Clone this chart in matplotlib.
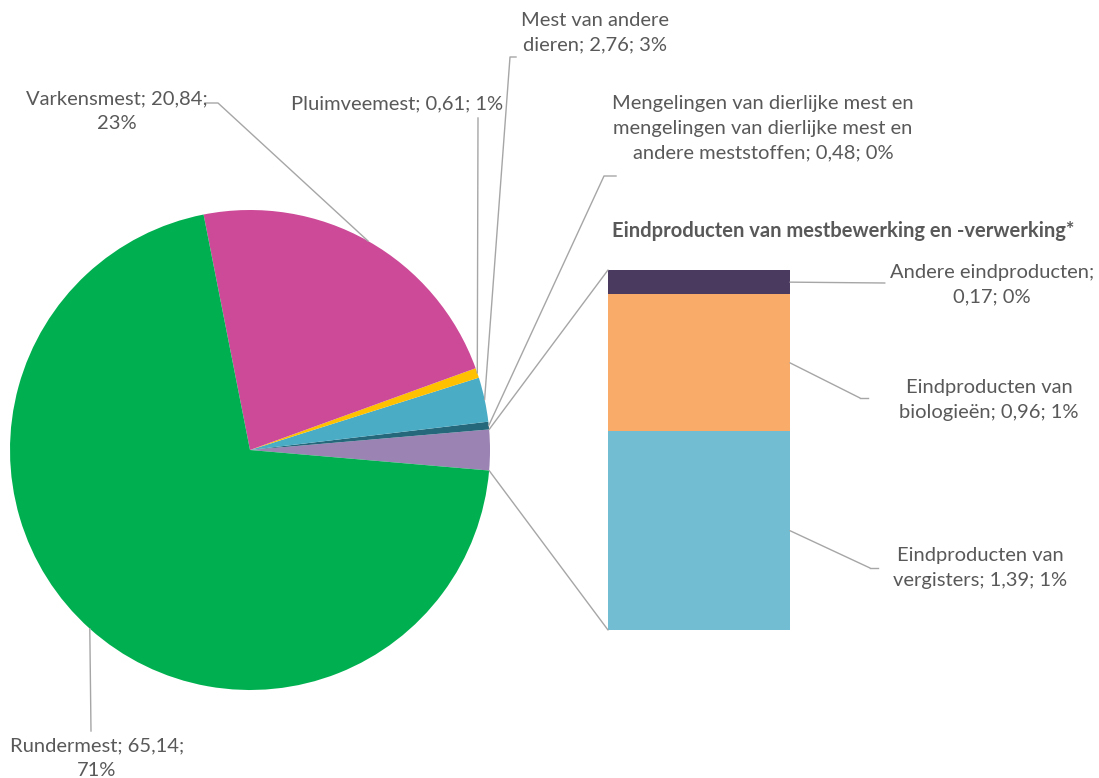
import matplotlib.pyplot as plt
from matplotlib.patches import ConnectionPatch
import numpy as np

plt.rcParams['font.family'] = ['Lato', 'DejaVu Sans']

# pie data (first slice is split into the bar)
pie_names = ['Eindproducten', 'Mengelingen van dierlijke mest en\nmengelingen van dierlijke mest en\nandere meststoffen',
             'Mest van andere\ndieren', 'Pluimveemest', 'Varkensmest', 'Rundermest']
pie_values = [2.52, 0.48, 2.76, 0.61, 20.84, 65.14]
pie_pcts = ['', '0%', '3%', '1%', '23%', '71%']
pie_colors = ['#9B83B4', '#25687C', '#4BACC6', '#FFC000', '#CC4A97', '#00B050']

# bar data, bottom to top
bar_names = ['Eindproducten van\nvergisters', 'Eindproducten van\nbiologieën', 'Andere eindproducten;\n']
bar_values = [1.39, 0.96, 0.17]
bar_pcts = ['1%', '1%', '0%']
bar_colors = ['#72BDD1', '#F9AC6A', '#4B3A60']

W, H = 1099, 778
TXT = '#595959'
LINE = '#A6A6A6'
FS = 14.5
LS = 1.55


def py(y):
    return H - y


def fmt(v):
    return f'{v:.2f}'.replace('.', ',')


fig = plt.figure(figsize=(W / 100, H / 100), dpi=100)
ax = fig.add_axes([0, 0, 1, 1])

cx, cy, r = 250, py(450), 240
start = -pie_values[0] / sum(pie_values) * 360 / 2
wedges, _ = ax.pie(pie_values, colors=pie_colors, startangle=start, counterclock=True,
                   center=(cx, cy), radius=r, wedgeprops=dict(linewidth=0))
ax.set_xlim(0, W)
ax.set_ylim(0, H)
ax.set_aspect('equal')
ax.axis('off')


def edge(w):
    a = np.deg2rad((w.theta1 + w.theta2) / 2)
    return cx + r * np.cos(a), cy + r * np.sin(a)


# pie labels: text center, leader path start
pie_label_pos = [None, (763, 128), (595, 33), (397, 104), (117, 111), (97, 758)]
pie_leader = [None, [(616, 176), (604, 176)], [(516, 57), (510, 57)], [(478, 118)],
              [(205, 103), (218, 103)], [(91, 731)]]

for i in range(1, len(pie_values)):
    name = pie_names[i]
    if i in (4, 5):
        txt = f'{name}; {fmt(pie_values[i])};\n{pie_pcts[i]}'
    else:
        txt = f'{name}; {fmt(pie_values[i])}; {pie_pcts[i]}'
    x, y = pie_label_pos[i]
    ax.text(x, py(y), txt, ha='center', va='center', fontsize=FS, color=TXT, linespacing=LS)
    pts = [(px, py(yy)) for px, yy in pie_leader[i]] + [edge(wedges[i])]
    xs, ys = zip(*pts)
    ax.plot(xs, ys, color=LINE, lw=1)

# bar of pie
bax = fig.add_axes([608 / W, (H - 630) / H, 182 / W, 360 / H])
bottom = 0
mids = []
for v, c in zip(bar_values, bar_colors):
    bax.bar(0, v, width=1, bottom=bottom, color=c, linewidth=0)
    mids.append(bottom + v / 2)
    bottom += v
bax.set_xlim(-0.5, 0.5)
bax.set_ylim(0, bottom)
bax.axis('off')

# connectors from pie to bar
w0 = wedges[0]
for th, yb in [(w0.theta2, bottom), (w0.theta1, 0)]:
    a = np.deg2rad(th)
    p = (cx + r * np.cos(a), cy + r * np.sin(a))
    fig.add_artist(ConnectionPatch(xyA=p, coordsA=ax.transData, xyB=(-0.5, yb),
                                   coordsB=bax.transData, color=LINE, lw=1))

bar_label_pos = [(980, 568), (989, 400), (992, 285)]
bar_leader = [[(870, 568), (878, 568)], [(860, 398), (868, 398)], [(885, 283)]]
for i in range(len(bar_values)):
    if i == 2:
        txt = f'{bar_names[i]}{fmt(bar_values[i])}; {bar_pcts[i]}'
    else:
        txt = f'{bar_names[i]}; {fmt(bar_values[i])}; {bar_pcts[i]}'
    x, y = bar_label_pos[i]
    ax.text(x, py(y), txt, ha='center', va='center', fontsize=FS, color=TXT, linespacing=LS)
    pts = [(px, py(yy)) for px, yy in bar_leader[i]]
    fig.add_artist(ConnectionPatch(xyA=(0.5, mids[i]), coordsA=bax.transData, xyB=pts[0],
                                   coordsB=ax.transData, color=LINE, lw=1))
    if len(pts) > 1:
        xs, ys = zip(*pts)
        ax.plot(xs, ys, color=LINE, lw=1)

ax.text(843, py(231), 'Eindproducten van mestbewerking en -verwerking*', ha='center', va='center',
        fontsize=FS, fontweight='bold', color=TXT)

fig.savefig('out.png', dpi=100)
